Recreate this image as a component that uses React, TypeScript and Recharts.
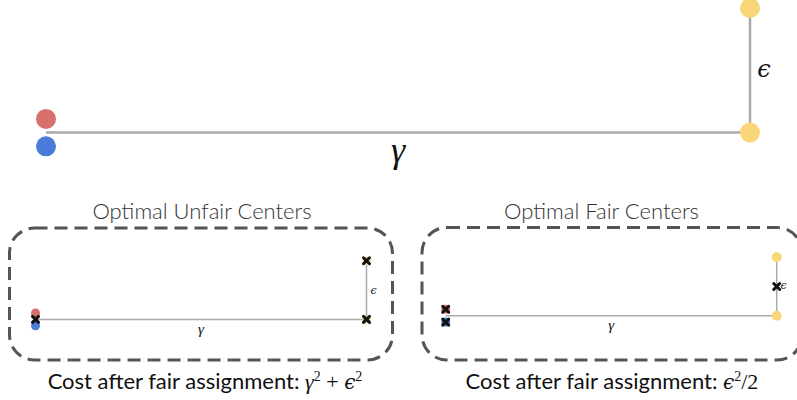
import React from "react";
import { ScatterChart, Scatter, XAxis, YAxis, ReferenceLine } from "recharts";

// gamma runs along x (0 -> 1), epsilon along y (0 -> 1)
const redPoints = [{ x: 0, y: 0.11 }];
const bluePoints = [{ x: 0, y: -0.11 }];
const yellowPoints = [
  { x: 1, y: 0 },
  { x: 1, y: 1 },
];
const gammaSegment = [
  { x: 0, y: 0 },
  { x: 1, y: 0 },
];
const epsSegment = [
  { x: 1, y: 0 },
  { x: 1, y: 1 },
];
const unfairCenters = [
  { x: 0, y: 0 },
  { x: 1, y: 0 },
  { x: 1, y: 1 },
];
const fairCenters = [
  { x: 0, y: 0.11 },
  { x: 0, y: -0.11 },
  { x: 1, y: 0.5 },
];
const panelTitles = ["Optimal Unfair Centers", "Optimal Fair Centers"];
const costPrefix = "Cost after fair assignment: ";

const RED = "#d76f6c";
const BLUE = "#4a7bd8";
const YELLOW = "#f9d778";
const LINE = "#aaaaaa";
const MATH = "Liberation Serif";
const EPSFONT = "DejaVu Serif";

const dot = (fill: string, r: number) => (p: any) => (
  <circle cx={p.cx} cy={p.cy} r={r} fill={fill} />
);

const cross = (p: any) => (
  <g stroke="#111" strokeWidth={3} strokeLinecap="round">
    <line x1={p.cx - 3} y1={p.cy - 3} x2={p.cx + 3} y2={p.cy + 3} />
    <line x1={p.cx - 3} y1={p.cy + 3} x2={p.cx + 3} y2={p.cy - 3} />
  </g>
);

// label under the middle of a horizontal segment
const belowLabel = (text: string, size: number, dy: number) => (props: any) => {
  const vb = props.viewBox;
  return (
    <text
      x={vb.x + vb.width / 2}
      y={vb.y + dy}
      textAnchor="middle"
      fontFamily={MATH}
      fontStyle="italic"
      fontSize={size}
      fill="#111"
    >
      {text}
    </text>
  );
};

// label right of the middle of a vertical segment
const sideLabel = (text: string, size: number, dx: number, dy: number) => (props: any) => {
  const vb = props.viewBox;
  return (
    <text
      x={vb.x + dx}
      y={vb.y + vb.height / 2 + dy}
      textAnchor="middle"
      fontFamily={EPSFONT}
      fontStyle="italic"
      fontSize={size}
      fill="#111"
    >
      {text}
    </text>
  );
};

function TopChart() {
  return (
    <ScatterChart
      width={797}
      height={180}
      margin={{ top: 8, right: 47, bottom: 10, left: 46 }}
    >
      <XAxis type="number" dataKey="x" domain={[0, 1]} hide />
      <YAxis type="number" dataKey="y" domain={[-0.3, 1]} hide />
      <ReferenceLine
        segment={gammaSegment}
        stroke={LINE}
        strokeWidth={2.5}
        label={belowLabel("γ", 36, 29)}
      />
      <ReferenceLine
        segment={epsSegment}
        stroke={LINE}
        strokeWidth={2.5}
        label={sideLabel("ϵ", 24, 14, 7)}
      />
      <Scatter data={redPoints} shape={dot(RED, 10)} isAnimationActive={false} />
      <Scatter data={bluePoints} shape={dot(BLUE, 10)} isAnimationActive={false} />
      <Scatter data={yellowPoints} shape={dot(YELLOW, 10)} isAnimationActive={false} />
    </ScatterChart>
  );
}

function PanelChart({
  centers,
  width,
  margin,
  yellowR,
  gammaDy,
  epsDy,
}: {
  centers: { x: number; y: number }[];
  width: number;
  margin: { top: number; right: number; bottom: number; left: number };
  yellowR: number;
  gammaDy: number;
  epsDy: number;
}) {
  return (
    <ScatterChart width={width} height={100} margin={margin}>
      <XAxis type="number" dataKey="x" domain={[0, 1]} hide />
      <YAxis type="number" dataKey="y" domain={[-0.3, 1.2]} hide />
      <ReferenceLine
        segment={gammaSegment}
        stroke={LINE}
        strokeWidth={1.5}
        label={belowLabel("γ", 15, gammaDy)}
      />
      <ReferenceLine
        segment={epsSegment}
        stroke={LINE}
        strokeWidth={1.5}
        label={sideLabel("ϵ", 11, 7, epsDy)}
      />
      <Scatter data={redPoints} shape={dot(RED, 4.5)} isAnimationActive={false} />
      <Scatter data={bluePoints} shape={dot(BLUE, 4.5)} isAnimationActive={false} />
      <Scatter data={yellowPoints} shape={dot(YELLOW, yellowR)} isAnimationActive={false} />
      <Scatter data={centers} shape={cross} isAnimationActive={false} />
    </ScatterChart>
  );
}

function Caption({ x, children }: { x: number; children: React.ReactNode }) {
  return (
    <text x={x} y={389} textAnchor="middle" fontFamily="Lato" fontSize={22} fill="#111">
      {costPrefix}
      {children}
    </text>
  );
}

export default function App() {
  return (
    <div style={{ position: "absolute", left: 0, top: 0, width: 797, height: 400, background: "#fff" }}>
      <svg width={797} height={400} style={{ position: "absolute", left: 0, top: 0 }}>
        <rect
          x={9.5}
          y={228}
          width={383}
          height={132}
          rx={25}
          fill="none"
          stroke="#555"
          strokeWidth={3}
          strokeDasharray="13 7"
        />
        <rect
          x={422}
          y={227.5}
          width={380}
          height={132.5}
          rx={25}
          fill="none"
          stroke="#555"
          strokeWidth={3}
          strokeDasharray="13 7"
        />
        <text x={202} y={219} textAnchor="middle" fontFamily="Lato" fontWeight={300} fontSize={22} fill="#333">
          {panelTitles[0]}
        </text>
        <text x={601.5} y={219} textAnchor="middle" fontFamily="Lato" fontWeight={300} fontSize={22} fill="#333">
          {panelTitles[1]}
        </text>
        <Caption x={205}>
          <tspan fontFamily={MATH} fontStyle="italic">γ</tspan>
          <tspan dy={-8} fontFamily={MATH} fontSize={14}>2</tspan>
          <tspan dy={8} fontFamily={MATH}> + </tspan>
          <tspan fontFamily={EPSFONT} fontStyle="italic" fontSize={20}>ϵ</tspan>
          <tspan dy={-8} fontFamily={MATH} fontSize={14}>2</tspan>
        </Caption>
        <Caption x={612}>
          <tspan fontFamily={EPSFONT} fontStyle="italic" fontSize={20}>ϵ</tspan>
          <tspan dy={-8} fontFamily={MATH} fontSize={14}>2</tspan>
          <tspan dy={8} fontFamily={MATH}>/2</tspan>
        </Caption>
      </svg>
      <div style={{ position: "absolute", left: 0, top: 0 }}>
        <TopChart />
      </div>
      <div style={{ position: "absolute", left: 0, top: 240 }}>
        <PanelChart
          centers={unfairCenters}
          width={400}
          margin={{ top: 9, right: 33.5, bottom: 3, left: 35.5 }}
          yellowR={4}
          gammaDy={15}
          epsDy={3.5}
        />
      </div>
      <div style={{ position: "absolute", left: 400, top: 240 }}>
        <PanelChart
          centers={fairCenters}
          width={397}
          margin={{ top: 5.6, right: 20.3, bottom: 6.8, left: 45.7 }}
          yellowR={5}
          gammaDy={14}
          epsDy={3}
        />
      </div>
    </div>
  );
}
